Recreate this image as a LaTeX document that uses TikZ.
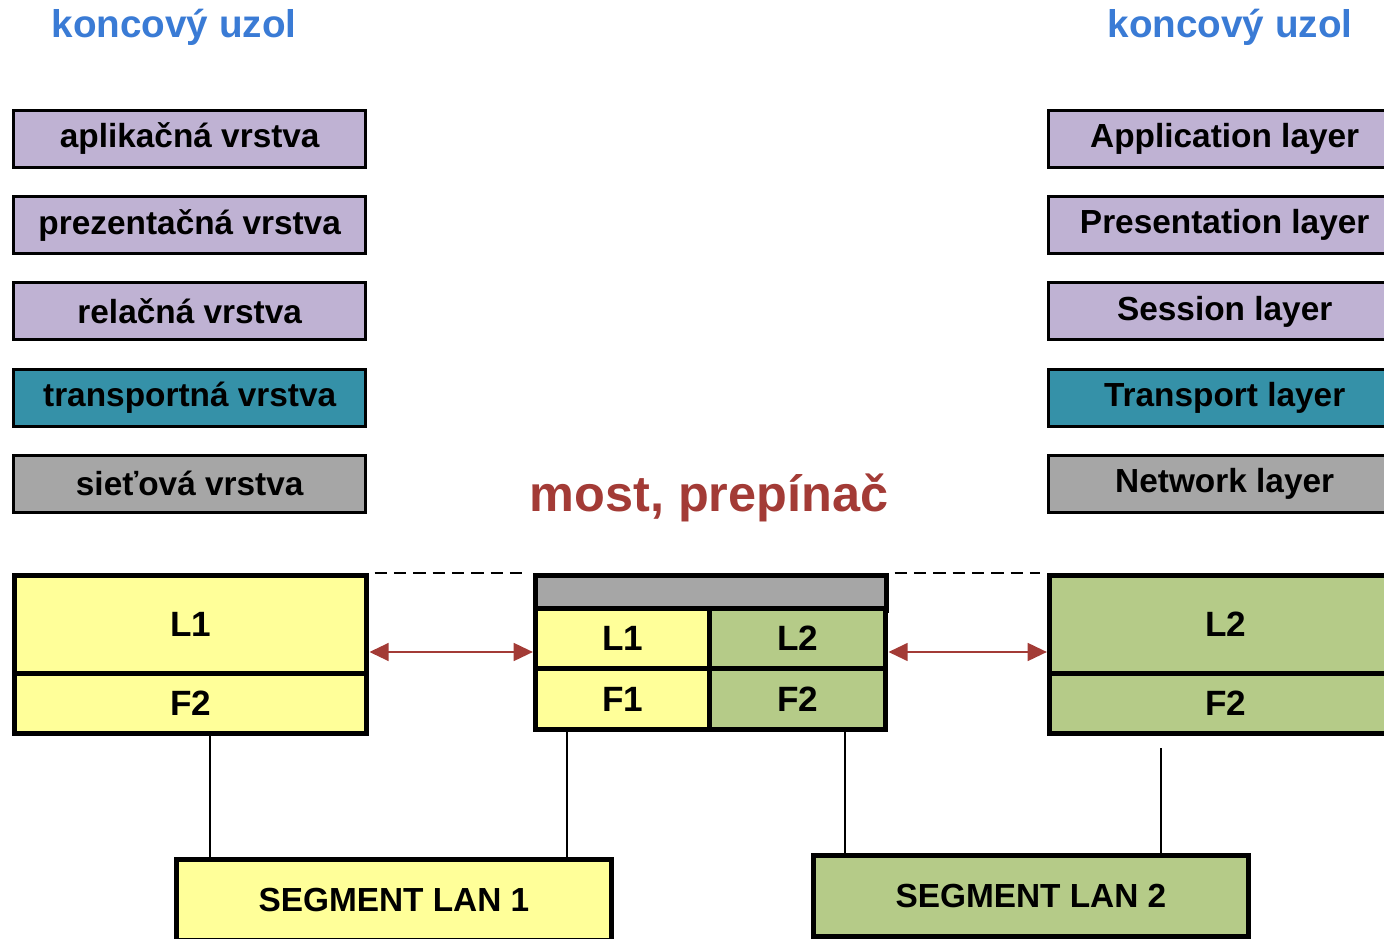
\documentclass[tikz,border=0pt]{standalone}
\usepackage{fontspec}
\setmainfont{Liberation Sans}
\usepackage{xcolor}
\usetikzlibrary{arrows.meta, positioning}

\definecolor{layerpurple}{HTML}{BFB2D3}
\definecolor{layerteal}{HTML}{3591A8}
\definecolor{layergrey}{HTML}{A6A6A6}
\definecolor{segyellow}{HTML}{FFFF99}
\definecolor{seggreen}{HTML}{B5CB88}
\definecolor{titleblue}{HTML}{3A7BD5}
\definecolor{titlered}{HTML}{A33B36}

\begin{document}
\begin{tikzpicture}[
  x=0.02cm, y=-0.02cm,
  node distance=0.525cm,
  layer/.style={rectangle, draw, line width=1.7pt, minimum width=7.05cm, minimum height=1.14cm, inner sep=0pt, font=\fontsize{19}{22}\selectfont\bfseries},
  cell/.style={rectangle, draw, line width=2.8pt, inner sep=0pt, anchor=north west, font=\fontsize{20}{24}\selectfont\bfseries},
  title/.style={font=\fontsize{22}{26}\selectfont\bfseries, text=titleblue},
  arr/.style={{Triangle[length=11pt,width=10pt]}-{Triangle[length=11pt,width=10pt]}, line width=1.7pt, draw=titlered},
  wire/.style={line width=0.9pt}
]
  \clip (0,0) rectangle (1384,939);

  % end node titles
  \node[title] (tL) at (174,27) {koncový uzol};
  \node[title] (tR) at (1230,27) {koncový uzol};
  \node[font=\fontsize{28.7}{32}\selectfont\bfseries, text=titlered] (tM) at (709,498) {most, prepínač};

  % left layer stack
  \node[layer, fill=layerpurple, anchor=north west] (lApp) at (12,109) {aplikačná vrstva};
  \node[layer, fill=layerpurple, below=of lApp] (lPres) {prezentačná vrstva};
  \node[layer, fill=layerpurple, below=of lPres] (lSess) {relačná vrstva};
  \node[layer, fill=layerteal, below=of lSess] (lTrans) {transportná vrstva};
  \node[layer, fill=layergrey, below=of lTrans] (lNet) {sieťová vrstva};

  % right layer stack
  \node[layer, fill=layerpurple, anchor=north west] (rApp) at (1047,109) {Application layer};
  \node[layer, fill=layerpurple, below=of rApp] (rPres) {Presentation layer};
  \node[layer, fill=layerpurple, below=of rPres] (rSess) {Session layer};
  \node[layer, fill=layerteal, below=of rSess] (rTrans) {Transport layer};
  \node[layer, fill=layergrey, below=of rTrans] (rNet) {Network layer};

  % left end node
  \node[cell, fill=segyellow, minimum width=7.05cm, minimum height=1.96cm] (lL1) at (12,573) {L1};
  \node[cell, fill=segyellow, minimum width=7.05cm, minimum height=1.2cm] (lF2) at (12,671) {F2};

  % bridge
  \node[cell, fill=layergrey, minimum width=7.03cm, minimum height=0.7cm] (mTop) at (533,573) {};
  \node[cell, fill=segyellow, minimum width=3.5cm, minimum height=1.2cm] (mL1) at (533,606) {L1};
  \node[cell, fill=seggreen, minimum width=3.53cm, minimum height=1.2cm] (mL2) at (707,606) {L2};
  \node[cell, fill=segyellow, minimum width=3.5cm, minimum height=1.22cm] (mF1) at (533,666) {F1};
  \node[cell, fill=seggreen, minimum width=3.53cm, minimum height=1.22cm] (mF2) at (707,666) {F2};

  % right end node
  \node[cell, fill=seggreen, minimum width=7.05cm, minimum height=1.96cm] (rL2) at (1047,573) {L2};
  \node[cell, fill=seggreen, minimum width=7.05cm, minimum height=1.2cm] (rF2) at (1047,671) {F2};

  % segments
  \node[cell, fill=segyellow, minimum width=8.7cm, minimum height=1.62cm, font=\fontsize{19}{23}\selectfont\bfseries] (seg1) at (174,857) {SEGMENT LAN 1};
  \node[cell, fill=seggreen, minimum width=8.7cm, minimum height=1.62cm, font=\fontsize{19}{23}\selectfont\bfseries] (seg2) at (811,853) {SEGMENT LAN 2};

  % connectors
  \draw[arr] (lL1.east |- 0,652) -- (mL1.west |- 0,652);
  \draw[arr] (mL2.east |- 0,652) -- (rL2.west |- 0,652);
  \draw[dash pattern=on 7pt off 4pt, line width=0.8pt] ([xshift=3pt]lL1.north east) -- ([xshift=-4pt]mTop.north west);
  \draw[dash pattern=on 7pt off 4pt, line width=0.8pt] ([xshift=3pt]mTop.north east) -- ([xshift=-4pt]rL2.north west);
  \draw[wire] (lF2.south -| 210,0) -- (seg1.north -| 210,0);
  \draw[wire] (mF1.south -| 567,0) -- (seg1.north -| 567,0);
  \draw[wire] (mF2.south -| 845,0) -- (seg2.north -| 845,0);
  \draw[wire] (1161,748) -- (seg2.north -| 1161,0);
\end{tikzpicture}
\end{document}
